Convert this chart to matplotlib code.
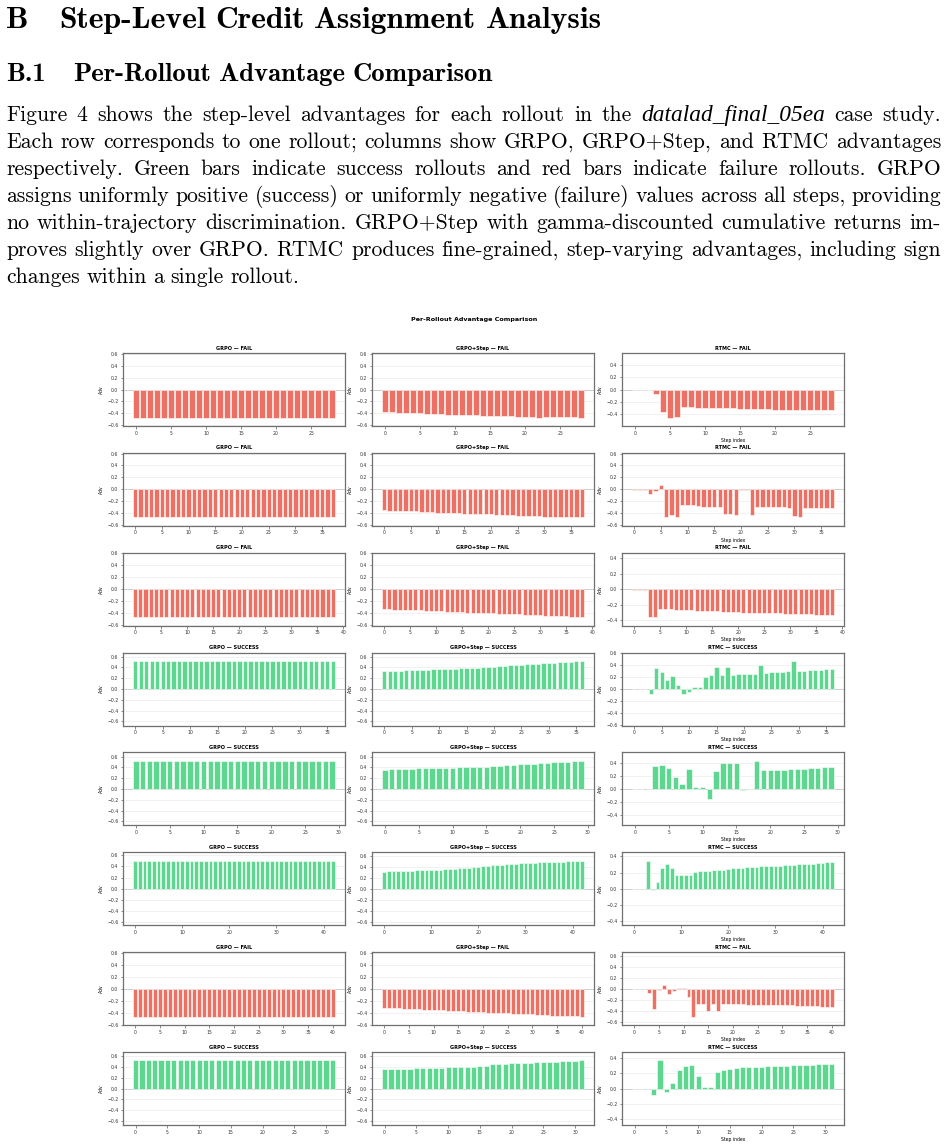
import matplotlib
matplotlib.use('Agg')
import matplotlib.pyplot as plt
from matplotlib.ticker import MultipleLocator

W, H, DPI = 947, 1148, 100

outcomes = ['FAIL', 'FAIL', 'FAIL', 'SUCCESS', 'SUCCESS', 'SUCCESS', 'FAIL', 'SUCCESS']
n_steps = [29, 38, 39, 37, 30, 43, 41, 32]
grpo_adv = [-0.47, -0.47, -0.47, 0.52, 0.52, 0.50, -0.47, 0.52]

step_r1 = [-0.375, -0.385, -0.39, -0.395, -0.395, -0.40, -0.405, -0.41, -0.415, -0.42,
           -0.42, -0.425, -0.43, -0.43, -0.44, -0.445, -0.45, -0.445, -0.45, -0.455,
           -0.46, -0.46, -0.47, -0.465, -0.465, -0.46, -0.465, -0.465, -0.47]
step_r2 = [-0.35, -0.355, -0.36, -0.36, -0.365, -0.37, -0.37, -0.375, -0.38, -0.385,
           -0.39, -0.39, -0.395, -0.40, -0.40, -0.405, -0.41, -0.41, -0.415, -0.42,
           -0.42, -0.425, -0.43, -0.43, -0.435, -0.44, -0.44, -0.445, -0.45, -0.45,
           -0.455, -0.455, -0.46, -0.46, -0.465, -0.465, -0.47, -0.47]
step_r3 = [-0.33, -0.335, -0.34, -0.34, -0.345, -0.35, -0.35, -0.355, -0.36, -0.365,
           -0.37, -0.37, -0.375, -0.38, -0.38, -0.385, -0.39, -0.39, -0.395, -0.40,
           -0.40, -0.405, -0.41, -0.41, -0.415, -0.42, -0.42, -0.425, -0.43, -0.43,
           -0.435, -0.44, -0.44, -0.445, -0.45, -0.455, -0.46, -0.465, -0.47]
step_r4 = [0.33, 0.335, 0.34, 0.34, 0.345, 0.35, 0.35, 0.355, 0.36, 0.365,
           0.37, 0.37, 0.375, 0.38, 0.385, 0.39, 0.39, 0.395, 0.40, 0.41,
           0.415, 0.42, 0.43, 0.44, 0.445, 0.45, 0.46, 0.465, 0.47, 0.48,
           0.485, 0.49, 0.495, 0.50, 0.51, 0.515, 0.52]
step_r5 = [0.36, 0.365, 0.37, 0.37, 0.375, 0.38, 0.38, 0.385, 0.39, 0.39,
           0.395, 0.40, 0.40, 0.405, 0.41, 0.415, 0.42, 0.43, 0.44, 0.45,
           0.455, 0.46, 0.47, 0.475, 0.48, 0.49, 0.495, 0.50, 0.51, 0.52]
step_r6 = [0.31, 0.315, 0.32, 0.32, 0.325, 0.33, 0.33, 0.335, 0.34, 0.34,
           0.345, 0.35, 0.35, 0.355, 0.36, 0.365, 0.37, 0.375, 0.38, 0.39,
           0.40, 0.41, 0.42, 0.43, 0.435, 0.44, 0.445, 0.45, 0.455, 0.46,
           0.465, 0.47, 0.475, 0.48, 0.48, 0.485, 0.49, 0.49, 0.495, 0.50,
           0.50, 0.505, 0.51]
step_r7 = [-0.32, -0.325, -0.33, -0.33, -0.335, -0.34, -0.34, -0.345, -0.35, -0.355,
           -0.36, -0.36, -0.365, -0.37, -0.37, -0.375, -0.38, -0.385, -0.39, -0.39,
           -0.395, -0.40, -0.40, -0.405, -0.41, -0.415, -0.42, -0.42, -0.425, -0.43,
           -0.43, -0.435, -0.44, -0.445, -0.45, -0.45, -0.455, -0.46, -0.465, -0.465, -0.47]
step_r8 = [0.356, 0.36, 0.365, 0.365, 0.37, 0.375, 0.38, 0.38, 0.385, 0.39,
           0.395, 0.395, 0.40, 0.40, 0.405, 0.42, 0.43, 0.45, 0.455, 0.465,
           0.47, 0.475, 0.48, 0.485, 0.49, 0.495, 0.50, 0.505, 0.51, 0.515, 0.52, 0.525]

rtmc_r1 = [-0.005, -0.005, -0.005, -0.08, -0.37, -0.46, -0.45, -0.29, -0.29, -0.30,
           -0.30, -0.31, -0.31, -0.31, -0.31, -0.32, -0.32, -0.32, -0.32, -0.32,
           -0.33, -0.33, -0.33, -0.33, -0.33, -0.33, -0.33, -0.33, -0.33]
rtmc_r2 = [-0.005, -0.005, -0.005, -0.07, -0.02, 0.07, -0.47, -0.43, -0.46, -0.27,
           -0.27, -0.27, -0.28, -0.29, -0.29, -0.29, -0.29, -0.42, -0.42, -0.43,
           -0.01, -0.01, -0.43, -0.29, -0.29, -0.30, -0.30, -0.30, -0.30, -0.31,
           -0.45, -0.47, -0.31, -0.31, -0.32, -0.32, -0.32, -0.32]
rtmc_r3 = [-0.005, -0.005, -0.005, -0.36, -0.35, -0.255, -0.255, -0.26, -0.265, -0.265,
           -0.27, -0.27, -0.275, -0.28, -0.28, -0.28, -0.285, -0.29, -0.29, -0.295,
           -0.295, -0.30, -0.30, -0.30, -0.30, -0.305, -0.305, -0.31, -0.31, -0.315,
           -0.315, -0.32, -0.32, -0.32, -0.32, -0.325, -0.325, -0.33, -0.33]
rtmc_r4 = [-0.005, -0.005, -0.005, -0.08, 0.35, 0.29, 0.15, 0.22, 0.075, -0.09,
           -0.05, 0.03, 0.03, 0.20, 0.24, 0.37, 0.24, 0.37, 0.24, 0.25,
           0.25, 0.25, 0.26, 0.41, 0.27, 0.28, 0.28, 0.29, 0.30, 0.47,
           0.31, 0.31, 0.32, 0.32, 0.32, 0.33, 0.33]
rtmc_r5 = [-0.005, -0.005, -0.005, 0.35, 0.37, 0.32, 0.19, 0.08, 0.30, 0.03,
           0.03, -0.15, 0.27, 0.40, 0.40, 0.40, -0.01, -0.005, 0.43, 0.29,
           0.29, 0.29, 0.29, 0.30, 0.31, 0.31, 0.32, 0.32, 0.33, 0.33]
rtmc_r6 = [-0.005, -0.005, -0.005, 0.345, -0.02, 0.08, 0.25, 0.30, 0.25, 0.17,
           0.17, 0.17, 0.175, 0.21, 0.22, 0.22, 0.22, 0.225, 0.225, 0.23,
           0.24, 0.25, 0.26, 0.26, 0.27, 0.27, 0.27, 0.275, 0.28, 0.28,
           0.285, 0.285, 0.29, 0.29, 0.295, 0.30, 0.30, 0.305, 0.31, 0.315,
           0.32, 0.325, 0.33]
rtmc_r7 = [-0.005, -0.005, -0.005, -0.08, -0.37, -0.03, 0.07, -0.09, -0.04, 0.02,
           0.02, -0.15, -0.51, -0.27, -0.27, -0.40, -0.27, -0.41, -0.28, -0.28,
           -0.28, -0.285, -0.285, -0.29, -0.29, -0.29, -0.29, -0.29, -0.30, -0.30,
           -0.30, -0.30, -0.305, -0.31, -0.31, -0.315, -0.32, -0.32, -0.325, -0.33, -0.33]
rtmc_r8 = [-0.005, -0.005, -0.005, -0.08, 0.37, -0.045, 0.07, 0.25, 0.30, 0.31,
           0.165, 0.025, 0.025, 0.22, 0.25, 0.26, 0.27, 0.28, 0.28, 0.29,
           0.29, 0.295, 0.30, 0.30, 0.30, 0.305, 0.31, 0.31, 0.315, 0.32, 0.32, 0.325]

step_rows = [step_r1, step_r2, step_r3, step_r4, step_r5, step_r6, step_r7, step_r8]
rtmc_rows = [rtmc_r1, rtmc_r2, rtmc_r3, rtmc_r4, rtmc_r5, rtmc_r6, rtmc_r7, rtmc_r8]
methods = ['GRPO', 'GRPO+Step', 'RTMC']

heading1 = ['B', 'Step-Level Credit Assignment Analysis']
heading2 = ['B.1', 'Per-Rollout Advantage Comparison']
para_lines = [
    ['Figure 4 shows the step-level advantages for each rollout in the', '*datalad_final_05ea', 'case study.'],
    ['Each row corresponds to one rollout; columns show GRPO, GRPO+Step, and RTMC advantages'],
    ['respectively.  Green bars indicate success rollouts and red bars indicate failure rollouts.  GRPO'],
    ['assigns uniformly positive (success) or uniformly negative (failure) values across all steps, providing'],
    ['no within-trajectory discrimination.  GRPO+Step with gamma-discounted cumulative returns im-'],
    ['proves slightly over GRPO. RTMC produces fine-grained, step-varying advantages, including sign'],
    ['changes within a single rollout.'],
]

RED = '#ec7063'
GREEN = '#5dd68f'

fig = plt.figure(figsize=(W / DPI, H / DPI), dpi=DPI)
fig.patch.set_facecolor('white')
renderer = fig.canvas.get_renderer()

ROMAN = dict(family='cmr10')
BOLD = dict(family='cmb10')
ITAL = dict(family='Liberation Serif', style='italic')


def make_words(segments, base):
    items = []
    for seg in segments:
        if seg.startswith('*'):
            items.append((seg[1:], ITAL))
        else:
            for w in seg.split():
                items.append((w, base))
    return items


def place(items, x0, x1, ybase, size, justify=True, gap_em=0.30):
    texts = []
    for w, kw in items:
        s = size * 1.08 if kw is ITAL else size
        texts.append(fig.text(0, 1 - ybase / H, w, fontsize=s, ha='left', va='baseline', **kw))
    widths = [t.get_window_extent(renderer).width for t in texts]
    if justify and len(texts) > 1:
        gap = (x1 - x0 - sum(widths)) / (len(texts) - 1)
    else:
        gap = gap_em * size * DPI / 72
    x = x0
    for t, w in zip(texts, widths):
        t.set_x(x / W)
        x += w + gap
    return texts


def natural_width(items, size, gap_em=0.30):
    ts = [fig.text(0, 0, w, fontsize=size, **kw) for w, kw in items]
    tot = sum(t.get_window_extent(renderer).width for t in ts)
    for t in ts:
        t.remove()
    return tot + gap_em * size * DPI / 72 * (len(items) - 1)


# headings
h1_items = make_words([heading1[1]], BOLD)
s1 = 10 * (600 - 59) / natural_width(h1_items, 10)
place([(heading1[0], BOLD)], 6, 30, 28, s1, justify=False)
place(h1_items, 59, 600, 28, s1, justify=False)

h2_items = make_words([heading2[1]], BOLD)
s2 = 10 * (492 - 73) / natural_width(h2_items, 10)
place([(heading2[0], BOLD)], 6, 40, 81, s2, justify=False)
place(h2_items, 73, 492, 81, s2, justify=False)

# paragraph
last_items = make_words(para_lines[-1], ROMAN)
sp = 10 * (298 - 6) / natural_width(last_items, 10)
for i, segs in enumerate(para_lines):
    items = make_words(segs, ROMAN)
    justify = i < len(para_lines) - 1
    place(items, 6, 941, 121 + 27 * i, sp, justify=justify)

# suptitle
fig.text(474 / W, 1 - 320 / H, 'Per-Rollout Advantage Comparison', ha='center', va='center',
         fontsize=4.6, fontweight='bold')

lefts = [123, 372, 622]
aw, ah = 222, 73
for r in range(8):
    top = 353 + 99.86 * r
    color = GREEN if outcomes[r] == 'SUCCESS' else RED
    n = len(rtmc_rows[r])
    series = [[grpo_adv[r]] * n, step_rows[r], rtmc_rows[r]]
    for c in range(3):
        ax = fig.add_axes([lefts[c] / W, 1 - (top + ah) / H, aw / W, ah / H])
        vals = series[c]
        ax.bar(range(len(vals)), vals, width=0.8, color=color, edgecolor='white', linewidth=0.4)
        m = max(abs(v) for v in vals) * 1.3
        ax.set_ylim(-m, m)
        ax.axhline(0, color='#b0b0b0', linewidth=0.7, zorder=0.5)
        ax.yaxis.set_major_locator(MultipleLocator(0.2))
        ax.xaxis.set_major_locator(MultipleLocator(10 if len(vals) > 42 else 5))
        ax.grid(axis='y', color='#e6e6e6', linewidth=0.4)
        ax.set_axisbelow(True)
        for s in ax.spines.values():
            s.set_color('#6f6f6f')
            s.set_linewidth(0.9)
        ax.tick_params(labelsize=3.3, length=1.8, width=0.4, pad=1.5, colors='#333333')
        ax.set_ylabel('Adv', fontsize=3.3, labelpad=2)
        ax.set_title(f'{methods[c]} — {outcomes[r]}', fontsize=3.6, fontweight='bold', pad=2.5)
        if c == 2:
            ax.set_xlabel('Step index', fontsize=3.3, labelpad=1.5)

fig.savefig('out.png', dpi=DPI, facecolor='white')
